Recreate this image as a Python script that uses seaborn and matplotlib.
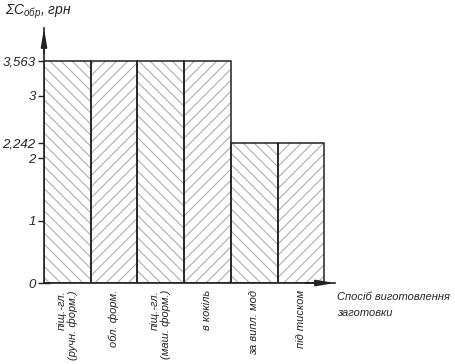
import matplotlib
matplotlib.use("Agg")
import matplotlib.pyplot as plt
import seaborn as sns
import pandas as pd

categories = ["піщ.-гл.\n(ручн. форм.)", "обл. форм.", "піщ.-гл.\n(маш. форм.)",
              "в кокіль", "за випл. мод", "під тиском"]
values = [3.563, 3.563, 3.563, 3.563, 2.242, 2.242]
hatches = ["\\\\\\", "///", "\\\\\\", "///", "\\\\\\", "///"]
ytick_vals = [0, 1, 2, 2.242, 3, 3.563]
ytick_labels = ["0", "1", "2", "2,242", "3", "3,563"]

sns.set_theme(style="white")
plt.rcParams['font.family'] = ['Liberation Sans', 'DejaVu Sans']
plt.rcParams['font.style'] = 'italic'
plt.rcParams['hatch.linewidth'] = 0.8
plt.rcParams['mathtext.fontset'] = 'custom'
plt.rcParams['mathtext.it'] = 'Liberation Sans:italic'
plt.rcParams['mathtext.rm'] = 'Liberation Sans:italic'
plt.rcParams['mathtext.default'] = 'it'

df = pd.DataFrame({"cat": categories, "val": values})

fig = plt.figure(figsize=(4.55, 3.64), dpi=100)
ax = fig.add_axes([44/455, (364-283)/364, (335-44)/455, (283-28)/364])

sns.barplot(data=df, x="cat", y="val", width=1.0, color="white",
            edgecolor="#b0b0b0", linewidth=0, saturation=1, ax=ax)
for p, h in zip(ax.patches, hatches):
    p.set_hatch(h)
sns.barplot(data=df, x="cat", y="val", width=1.0, fill=False,
            edgecolor="#222222", linewidth=1.1, ax=ax)

ax.set_xlim(-0.5, 5.73)
ax.set_ylim(0, 4.09)
for s in ["top", "right"]:
    ax.spines[s].set_visible(False)
for s in ["left", "bottom"]:
    ax.spines[s].set_color("#222222")
    ax.spines[s].set_linewidth(1.2)

ax.annotate("", xy=(0, 1.0), xycoords="axes fraction", xytext=(0, 0.9),
            arrowprops=dict(arrowstyle="-|>,head_length=0.9,head_width=0.15",
                            color="#222222", lw=1.2, shrinkA=0, shrinkB=0))
ax.annotate("", xy=(1.0, 0), xycoords="axes fraction", xytext=(0.9, 0),
            arrowprops=dict(arrowstyle="-|>,head_length=0.9,head_width=0.15",
                            color="#222222", lw=1.2, shrinkA=0, shrinkB=0))

ax.set_yticks(ytick_vals)
ax.set_yticklabels(ytick_labels, fontsize=9.5)
ax.tick_params(axis="y", direction="inout", length=8, width=1.0, color="#222222",
               pad=2, left=True)
ax.tick_params(axis="x", length=0, pad=5)
ax.set_xticks(range(len(categories)))
ax.set_xticklabels(categories, rotation=90, fontsize=8, va="top", ha="center",
                   linespacing=1.05, multialignment="right")
ax.set_xlabel("")
ax.set_ylabel("")

fig.text(5/455, 1 - 12/364, r"$\Sigma C_{обр}$, грн", fontsize=10, va="center", ha="left")
fig.text(337/455, 1 - 305/364, "Спосіб виготовлення\nзаготовки", fontsize=8,
         va="center", ha="left", linespacing=1.7)

fig.savefig("out.png", dpi=100)
